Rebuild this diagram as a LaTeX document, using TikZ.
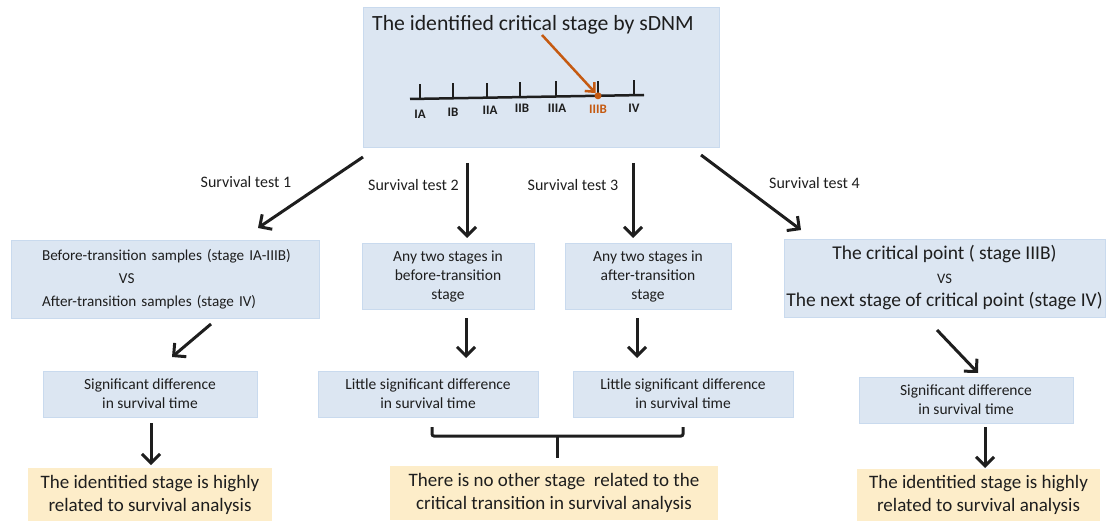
\documentclass[tikz,border=0pt]{standalone}
\usepackage{fontspec}
\setmainfont{Carlito}
\usetikzlibrary{arrows.meta}
\definecolor{boxblue}{HTML}{DCE6F2}
\definecolor{boxline}{HTML}{C9DAEE}
\definecolor{boxyellow}{HTML}{FDEDC9}
\definecolor{orng}{HTML}{C55A11}
\definecolor{ink}{HTML}{1E1E1E}
\begin{document}
\begin{tikzpicture}[x=1pt,y=-1pt,
  bluebox/.style={draw=boxline, line width=0.8pt, fill=boxblue, inner sep=0pt, align=center, text=ink},
  yellowbox/.style={fill=boxyellow, inner sep=0pt, align=center, text=ink, font=\fontsize{19}{23}\selectfont},
  arr/.style={draw=ink, line width=3pt, -{Straight Barb[length=9pt,width=18pt]}},
  lbl/.style={text=ink, font=\fontsize{16}{19}\selectfont, inner sep=0pt},
  stg/.style={font=\fontsize{13}{15}\selectfont\bfseries, inner sep=0pt, text=ink},
  small/.style={font=\fontsize{15.5}{19}\selectfont},
  tick/.style={draw=ink, line width=2.5pt}]
\useasboundingbox (0,0) rectangle (1110,521);

% top box
\node[bluebox, minimum width=356pt, minimum height=140pt] (top) at (541,77) {};
\node[text=ink, inner sep=0pt, font=\fontsize{21.7}{25}\selectfont] (title) at (533,25) {The identified critical stage by sDNM};
\draw[tick] (410,99) -- (644,95);
\foreach \x/\yb in {420/98.8,453/98.2,487/97.7,520/97.1,556/96.5,598/95.8,634/95.2}
  \draw[tick] (\x,\yb) -- (\x,\yb-15);
\node[stg] (sIA) at (420,114) {IA};
\node[stg] (sIB) at (453,112) {IB};
\node[stg] (sIIA) at (490,110) {IIA};
\node[stg] (sIIB) at (522,108) {IIB};
\node[stg] (sIIIA) at (557,108) {IIIA};
\node[stg, text=orng] (sIIIB) at (598,109) {IIIB};
\node[stg] (sIV) at (634,108) {IV};
\node[circle, fill=orng, inner sep=0pt, minimum size=7pt] (dot) at (598,95.8) {};
\coordinate (osrc) at (542,35);
\draw[orng, line width=2.5pt, -{Straight Barb[length=7pt,width=13pt]}] (osrc) -- (dot);

% survival test labels
\node[lbl] (t1) at (246,182) {Survival test 1};
\node[lbl] (t2) at (413.5,185) {Survival test 2};
\node[lbl] (t3) at (573,185) {Survival test 3};
\node[lbl] (t4) at (814.5,183) {Survival test 4};

% second row boxes
\node[bluebox, minimum width=308pt, minimum height=78pt, font=\fontsize{15.2}{23}\selectfont, align=left, text width=262pt] (b1) at (165,279)
  {\hspace*{8pt}Before-transition samples (stage IA-IIIB)\\\hspace*{85pt}VS\\\hspace*{8pt}After-transition samples (stage IV)};
\node[bluebox, minimum width=172pt, minimum height=66pt, font=\fontsize{15.5}{19}\selectfont] (b2) at (448,276)
  {Any two stages in\\before-transition\\stage};
\node[bluebox, minimum width=166pt, minimum height=66pt, font=\fontsize{15.5}{19}\selectfont] (b3) at (648,276)
  {Any two stages in\\after-transition\\stage};
\node[bluebox, minimum width=321pt, minimum height=78pt, font=\fontsize{19.5}{23.5}\selectfont] (b4) at (944.5,278)
  {The critical point ( stage IIIB)\\{\fontsize{14.5}{23.5}\selectfont VS}\\The next stage of critical point (stage IV)};

% third row
\node[bluebox, small, minimum width=214pt, minimum height=46pt] (s1) at (150,394) {Significant difference\\in survival time};
\node[bluebox, small, minimum width=220pt, minimum height=46pt] (l1) at (428,394) {Little significant difference\\in survival time};
\node[bluebox, small, minimum width=220pt, minimum height=46pt] (l2) at (683,394) {Little significant difference\\in survival time};
\node[bluebox, small, minimum width=214pt, minimum height=46pt] (s2) at (966,400) {Significant difference\\in survival time};

% bottom row
\node[yellowbox, minimum width=244pt, minimum height=53pt] (y1) at (150,494.5) {The identitied stage is highly\\related to survival analysis};
\node[yellowbox, minimum width=328pt, minimum height=54pt] (y2) at (554,493) {There is no other stage \ related to the\\critical transition in survival analysis};
\node[yellowbox, minimum width=243pt, minimum height=52pt] (y3) at (978.5,495) {The identitied stage is highly\\related to survival analysis};

% arrows top -> second row
\coordinate (a1s) at (363,157); \coordinate (a1e) at (258,228);
\coordinate (a2s) at (467,163); \coordinate (a2e) at (467,238);
\coordinate (a3s) at (633,163); \coordinate (a3e) at (633,238);
\coordinate (a4s) at (701,155); \coordinate (a4e) at (801,230);
\draw[arr] (a1s) -- (a1e);
\draw[arr] (a2s) -- (a2e);
\draw[arr] (a3s) -- (a3e);
\draw[arr] (a4s) -- (a4e);

% second -> third
\coordinate (c1s) at (211,324); \coordinate (c1e) at (172,357);
\coordinate (c2s) at (466,318); \coordinate (c2e) at (466,358);
\coordinate (c3s) at (637,318); \coordinate (c3e) at (637,358);
\coordinate (c4s) at (937,330); \coordinate (c4e) at (978,373);
\draw[arr] (c1s) -- (c1e);
\draw[arr] (c2s) -- (c2e);
\draw[arr] (c3s) -- (c3e);
\draw[arr] (c4s) -- (c4e);

% third -> bottom
\coordinate (d1s) at (151,423); \coordinate (d1e) at (151,465);
\coordinate (d4s) at (985,427); \coordinate (d4e) at (985,468);
\draw[arr] (d1s) -- (d1e);
\draw[arr] (d4s) -- (d4e);

% bracket
\coordinate (bl) at (432,427); \coordinate (br) at (683,427);
\coordinate (bm) at (557,436); \coordinate (be) at (557,458);
\draw[ink, line width=3pt, rounded corners=2pt] (bl) -- (432,436) -- (683,436) -- (br);
\draw[ink, line width=3pt] (bm) -- (be);
\end{tikzpicture}
\end{document}
